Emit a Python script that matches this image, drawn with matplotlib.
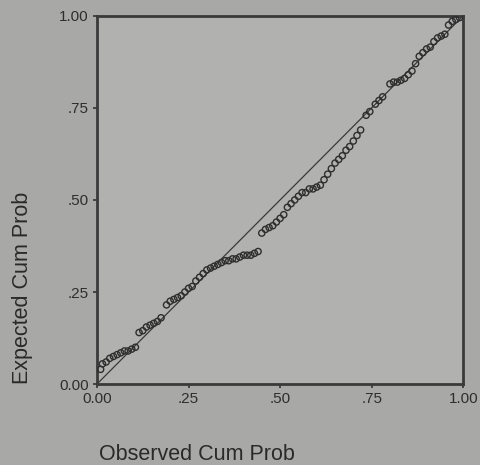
import matplotlib.pyplot as plt

# P-P plot values
observed = [0.01, 0.015, 0.025, 0.035, 0.045, 0.055, 0.065, 0.075, 0.085, 0.095, 0.105,
            0.115, 0.125, 0.135, 0.145, 0.155, 0.165, 0.175,
            0.19, 0.20, 0.21, 0.22, 0.23, 0.24, 0.25, 0.26,
            0.27, 0.28, 0.29, 0.30, 0.31, 0.32, 0.33, 0.34, 0.35, 0.36, 0.37, 0.38,
            0.39, 0.40, 0.41, 0.42, 0.43, 0.44,
            0.45, 0.46, 0.47, 0.48, 0.49, 0.50, 0.51, 0.52, 0.53, 0.54, 0.55, 0.56,
            0.57, 0.58, 0.59, 0.60, 0.61, 0.62,
            0.63, 0.64, 0.65, 0.66, 0.67, 0.68, 0.69, 0.70, 0.71, 0.72,
            0.735, 0.745, 0.76, 0.77, 0.78,
            0.80, 0.81, 0.82, 0.83, 0.84, 0.85, 0.86, 0.87, 0.88, 0.89, 0.90,
            0.91, 0.92, 0.93, 0.94, 0.95, 0.96, 0.97, 0.98, 0.99]
expected = [0.04, 0.055, 0.06, 0.07, 0.075, 0.08, 0.085, 0.09, 0.09, 0.095, 0.10,
            0.14, 0.145, 0.155, 0.16, 0.165, 0.17, 0.18,
            0.215, 0.225, 0.23, 0.235, 0.24, 0.25, 0.26, 0.265,
            0.28, 0.29, 0.30, 0.31, 0.315, 0.32, 0.325, 0.33, 0.335, 0.335, 0.34, 0.34,
            0.345, 0.35, 0.35, 0.35, 0.355, 0.36,
            0.41, 0.42, 0.425, 0.43, 0.44, 0.45, 0.46, 0.48, 0.49, 0.50, 0.51, 0.52,
            0.52, 0.53, 0.53, 0.535, 0.54, 0.555,
            0.57, 0.585, 0.60, 0.61, 0.62, 0.635, 0.645, 0.66, 0.675, 0.69,
            0.73, 0.74, 0.76, 0.77, 0.78,
            0.815, 0.82, 0.82, 0.825, 0.83, 0.84, 0.85, 0.87, 0.89, 0.90, 0.91,
            0.915, 0.93, 0.94, 0.945, 0.95, 0.975, 0.985, 0.99, 0.995]

ticks = [0, 0.25, 0.5, 0.75, 1.0]
tick_labels = ['0.00', '.25', '.50', '.75', '1.00']

plt.rcParams['font.family'] = ['Liberation Sans', 'DejaVu Sans']

fig = plt.figure(figsize=(4.8, 4.65), dpi=100, facecolor='#a8a8a6')
ax = fig.add_axes([0.202, 0.174, 0.763, 0.792], facecolor='#b1b1af')

ax.plot([0, 1], [0, 1], color='#3a3a3a', linewidth=0.9)
ax.scatter(observed, expected, s=20, facecolors='none', edgecolors='#2e2e2e', linewidths=1.0, zorder=3)

ax.set_xlim(0, 1)
ax.set_ylim(0, 1)
ax.set_xticks(ticks)
ax.set_xticklabels(tick_labels)
ax.set_yticks(ticks)
ax.set_yticklabels(tick_labels)
ax.tick_params(direction='out', length=3, width=1.2, color='#333333', labelsize=11, labelcolor='#2e2e2e', pad=3)
for s in ax.spines.values():
    s.set_linewidth(2.0)
    s.set_color('#3a3a3a')

fig.text(0.41, 0.022, 'Observed Cum Prob', fontsize=15.5, color='#2a2a2a', ha='center', va='center')
fig.text(0.046, 0.38, 'Expected Cum Prob', fontsize=15.5, color='#2a2a2a', rotation=90, ha='center', va='center')

fig.savefig('out.png', dpi=100, facecolor=fig.get_facecolor())
